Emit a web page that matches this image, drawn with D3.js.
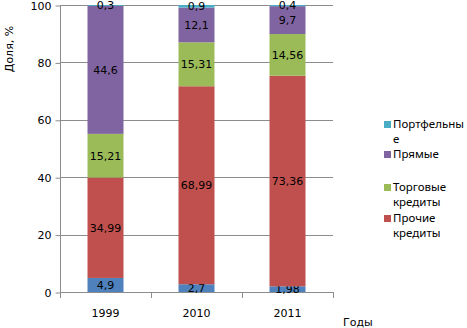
<!DOCTYPE html>
<html>
<head>
<meta charset="utf-8">
<script src="https://cdn.jsdelivr.net/npm/d3@7"></script>
<style>
  body { margin: 0; background: #fff; }
  text { font-family: "DejaVu Sans", Verdana, sans-serif; fill: #000; }
  .legend text { font-family: "Noto Sans", "Open Sans", sans-serif; }
</style>
</head>
<body>
<div id="chart"></div>
<script>
// chart data
var years = ["1999", "2010", "2011"];
var seriesNames = ["Другие", "Прочие кредиты", "Торговые кредиты", "Прямые", "Портфельные"];
var other = [4.9, 2.7, 1.98];
var otherCredits = [34.99, 68.99, 73.36];
var tradeCredits = [15.21, 15.31, 14.56];
var direct = [44.6, 12.1, 9.7];
var portfolio = [0.3, 0.9, 0.4];
var yTicks = [0, 20, 40, 60, 80, 100];
var colors = ["#4f81bd", "#c0504d", "#9bbb59", "#8064a2", "#4bacc6"];

var svgWidth = 467, svgHeight = 328;

var svg = d3.select("#chart")
  .append("svg")
  .attr("width", svgWidth)
  .attr("height", svgHeight);

// build rows for the stack
var rows = years.map(function(y, i) {
  return {
    year: y,
    s0: other[i], s1: otherCredits[i], s2: tradeCredits[i], s3: direct[i], s4: portfolio[i]
  };
});
var keys = ["s0", "s1", "s2", "s3", "s4"];
var stacked = d3.stack().keys(keys)(rows);

var x = d3.scaleBand()
  .domain(years)
  .range([60, 333]);

var y = d3.scaleLinear()
  .domain([0, 100])
  .range([292, 5]);

var barW = 36;

// gridlines
svg.append("g")
  .selectAll("line")
  .data(yTicks.slice(1))
  .enter()
  .append("line")
  .attr("x1", 60)
  .attr("x2", 333)
  .attr("y1", d => Math.round(y(d)) + 0.5)
  .attr("y2", d => Math.round(y(d)) + 0.5)
  .attr("stroke", "#8c8c8c")
  .attr("stroke-width", 1);

// y axis
var yAxis = d3.axisLeft(y)
  .tickValues(yTicks)
  .tickSize(5)
  .tickPadding(4);

var yg = svg.append("g")
  .attr("transform", "translate(60.5,0.5)")
  .call(yAxis);
yg.select(".domain").attr("stroke", "#8c8c8c").attr("d", "M0," + y(100) + "V" + y(0));
yg.selectAll(".tick line").attr("stroke", "#8c8c8c");
yg.selectAll(".tick text")
  .style("font-family", "DejaVu Sans, sans-serif")
  .style("font-size", "11px")
  .attr("fill", "#000");

// x axis line with category boundary ticks
var xg = svg.append("g");
xg.append("line")
  .attr("x1", 60).attr("x2", 333)
  .attr("y1", Math.round(y(0)) + 0.5).attr("y2", Math.round(y(0)) + 0.5)
  .attr("stroke", "#8c8c8c");
xg.selectAll("line.tick")
  .data(years.concat(["end"]))
  .enter()
  .append("line")
  .attr("class", "tick")
  .attr("x1", (d, i) => Math.round(60 + i * x.step()) + 0.5)
  .attr("x2", (d, i) => Math.round(60 + i * x.step()) + 0.5)
  .attr("y1", Math.round(y(0)))
  .attr("y2", Math.round(y(0)) + 6)
  .attr("stroke", "#8c8c8c");
xg.selectAll("text")
  .data(years)
  .enter()
  .append("text")
  .attr("x", d => x(d) + x.bandwidth() / 2)
  .attr("y", 317)
  .attr("text-anchor", "middle")
  .attr("font-size", 11)
  .text(d => d);

// stacked bars
var layers = svg.selectAll("g.layer")
  .data(stacked)
  .enter()
  .append("g")
  .attr("class", "layer")
  .attr("fill", (d, i) => colors[i]);

layers.selectAll("rect")
  .data(d => d)
  .enter()
  .append("rect")
  .attr("x", d => x(d.data.year) + x.bandwidth() / 2 - barW / 2)
  .attr("width", barW)
  .attr("y", d => y(d[1]))
  .attr("height", d => y(d[0]) - y(d[1]));

// value labels
var fmt = function(v) { return String(v).replace(".", ","); };
layers.selectAll("text")
  .data(function(d) { var k = d.key; return d.map(function(p) { return { p: p, key: k }; }); })
  .enter()
  .append("text")
  .attr("x", d => x(d.p.data.year) + x.bandwidth() / 2)
  .attr("y", d => y((d.p[0] + d.p[1]) / 2))
  .attr("dy", "0.35em")
  .attr("text-anchor", "middle")
  .attr("font-size", 11)
  .style("fill", "#000")
  .text(d => fmt(d.p.data[d.key]));

// axis titles
svg.append("text")
  .attr("transform", "translate(13,49) rotate(-90)")
  .attr("text-anchor", "middle")
  .attr("font-size", 11)
  .text("Доля, %");

svg.append("text")
  .attr("x", 343)
  .attr("y", 326)
  .attr("font-size", 11)
  .text("Годы");

// legend (wrapped lines as separate texts)
var legendItems = [
  { name: ["Портфельны", "е"], color: colors[4], y: 124 },
  { name: ["Прямые"], color: colors[3], y: 154 },
  { name: ["Торговые", "кредиты"], color: colors[2], y: 187 },
  { name: ["Прочие", "кредиты"], color: colors[1], y: 218 }
];
var legend = svg.selectAll("g.legend")
  .data(legendItems)
  .enter()
  .append("g")
  .attr("class", "legend");
legend.append("rect")
  .attr("x", 384)
  .attr("y", d => d.y - 3)
  .attr("width", 7)
  .attr("height", 7)
  .attr("fill", d => d.color);
legend.selectAll("text")
  .data(d => d.name.map((n, i) => ({ n: n, y: d.y + i * 15 })))
  .enter()
  .append("text")
  .attr("x", 393)
  .attr("y", d => d.y)
  .attr("dy", "0.35em")
  .attr("font-size", 11.5)
  .text(d => d.n);
</script>
</body>
</html>
